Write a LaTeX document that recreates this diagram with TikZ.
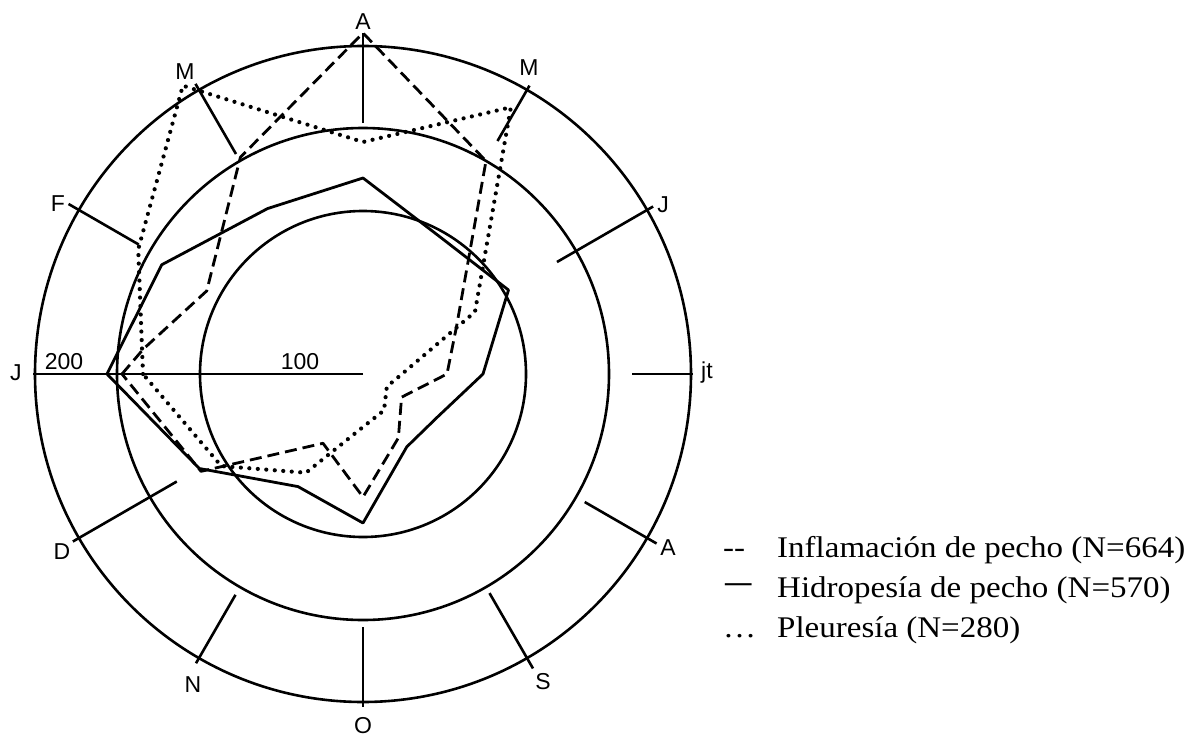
\documentclass[tikz,border=0pt]{standalone}
\usepackage{fontspec}
\setmainfont{Liberation Serif}
\setsansfont{Liberation Sans}
\newfontfamily\legfont[FakeStretch=1.1]{Liberation Serif}
\usepackage{tikz}
\usetikzlibrary{positioning}

\begin{document}
\begin{tikzpicture}[x=1pt, y=1pt,
  month/.style={font=\sffamily\fontsize{23}{23}\selectfont, inner sep=0pt},
  ring/.style={line width=2.6pt},
  inflam/.style={line width=2.8pt, dash pattern=on 12pt off 6pt, line join=round},
  hidro/.style={line width=2.8pt, line join=round},
  pleur/.style={line width=4.2pt, dash pattern=on 0pt off 8.5pt, line cap=round, line join=round},
  legtext/.style={font=\legfont\fontsize{30}{30}\selectfont, anchor=base west, inner sep=0pt}]
\useasboundingbox (-363,-363) rectangle (827,374);

% rings
\draw[ring] (0,0) circle (163);
\draw[ring] (0,0) circle (246);
\draw[ring] (0,0) circle (328);

% month ticks
\draw[ring] (0,0) -- (180:330);
\foreach \ang/\rin/\rout in {150/259/340, 120/254/335, 90/251/341, 60/269/333,
  30/224/335, 0/269/330, -30/256/339, -60/253/340, -90/253/333,
  -120/255/334, -150/215/335}
  \draw[ring] (\ang:\rin) -- (\ang:\rout);

% month labels
\node[month] (jan) at (-347,1) {J};
\node[month] (feb) at (-305,170) {F};
\node[month] (mar) at (-178,302) {M};
\node[month] (apr) at (0,352) {A};
\node[month] (may) at (166,306) {M};
\node[month] (jun) at (300,169) {J};
\node[month, anchor=west] (jul) at (338,1) {jt};
\node[month] (aug) at (305,-174) {A};
\node[month] (sep) at (180,-308) {S};
\node[month] (oct) at (0,-352) {O};
\node[month] (nov) at (-170,-311) {N};
\node[month] (dec) at (-301,-178) {D};

% scale
\node[month] (s200) at (-299,12) {200};
\node[month] (s100) at (-63,12) {100};

% Inflamacion de pecho
\draw[inflam] (180:241) -- (173.5:221) -- (152:177) -- (119.5:249) -- (90:341)
  -- (60:246) -- (27:105) -- (0:84) -- (-31:45) -- (-61:73) -- (-90:123)
  -- (-120:80) -- (-149:189) -- cycle;

% Hidropesia de pecho
\draw[hidro] (180:256) -- (151.5:229) -- (120:191) -- (90:196) -- (60:157)
  -- (30:168) -- (0:120) -- (-30:86) -- (-59:85) -- (-90:149)
  -- (-120:130) -- (-150:189) -- cycle;

% Pleuresia
\draw[pleur] (180:220) -- (151:257) -- (122:340) -- (90:232) -- (61:305)
  -- (29:128) -- (0:39) -- (-28:27) -- (-60:42) -- (-90:53)
  -- (-120:114) -- (-147:169) -- cycle;

% legend
\node[legtext] (m1) at (360,-183) {-{}-};
\node[legtext] (l1) at (414,-183) {Inflamación de pecho (N=664)};
\node[legtext, yshift=3pt] (m2) at (362,-223) {\scalebox{0.8}[1.4]{—}};
\node[legtext] (l2) at (414,-223) {Hidropesía de pecho (N=570)};
\node[legtext] (m3) at (360,-263) {\dots};
\node[legtext] (l3) at (414,-263) {Pleuresía (N=280)};
\end{tikzpicture}
\end{document}
